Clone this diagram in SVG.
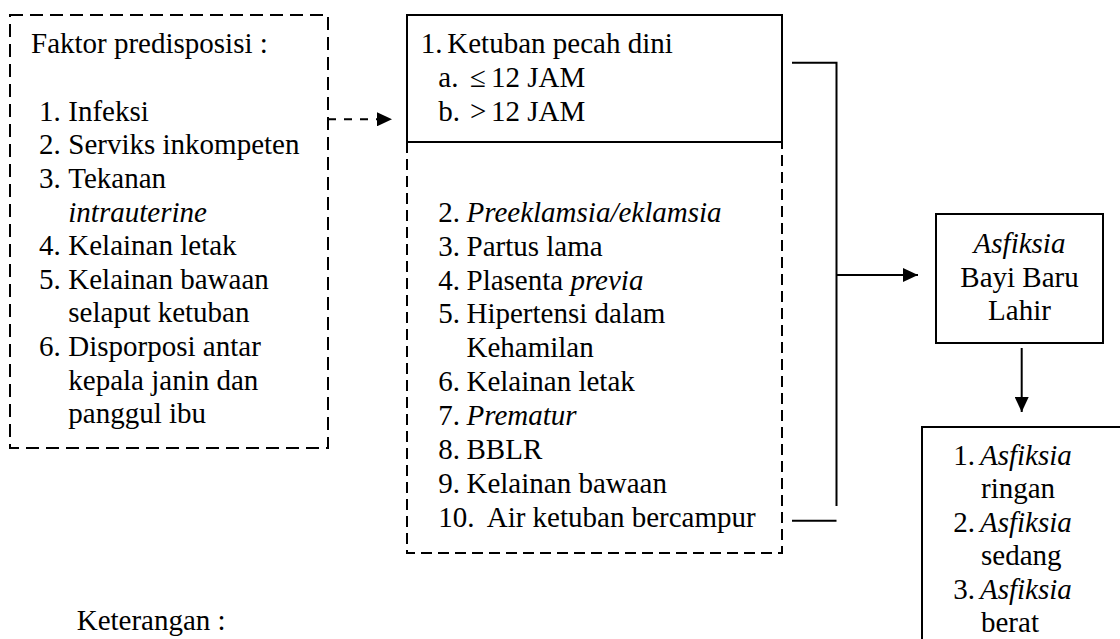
<svg xmlns="http://www.w3.org/2000/svg" width="1120" height="639" viewBox="0 0 1120 639">
<style>
  text { font-family: "Liberation Serif", "Times New Roman", serif; font-size: 29px; fill: #000; }
  .it { font-style: italic; }
  .mid { text-anchor: middle; }
  .solid { fill: none; stroke: #000; stroke-width: 2; }
  .dash { fill: none; stroke: #000; stroke-width: 2; stroke-dasharray: 13 7; }
  .dash2 { fill: none; stroke: #000; stroke-width: 2; stroke-dasharray: 11 6; }
  .line { fill: none; stroke: #000; stroke-width: 2; }
  .dline { fill: none; stroke: #000; stroke-width: 2; stroke-dasharray: 8 8; }
</style>
<defs>
  <marker id="arr" markerWidth="16" markerHeight="14" refX="15" refY="7" orient="auto" markerUnits="userSpaceOnUse">
    <path d="M0,0 L15,7 L0,14 Z" fill="#000"/>
  </marker>
</defs>
<rect width="1120" height="639" fill="#fff"/>

<g id="node-faktor">
  <rect x="10" y="15" width="318" height="433" class="dash"/>
  <text x="31" y="53">Faktor predisposisi :</text>
  <text x="39" y="120.7">1.</text><text x="68.3" y="120.7">Infeksi</text>
  <text x="39" y="154.3">2.</text><text x="68.3" y="154.3">Serviks inkompeten</text>
  <text x="39" y="187.9">3.</text><text x="68.3" y="187.9">Tekanan</text>
  <text x="68.3" y="221.5" class="it">intrauterine</text>
  <text x="39" y="255.1">4.</text><text x="68.3" y="255.1">Kelainan letak</text>
  <text x="39" y="288.7">5.</text><text x="68.3" y="288.7">Kelainan bawaan</text>
  <text x="68.3" y="322.3">selaput ketuban</text>
  <text x="39" y="355.9">6.</text><text x="68.3" y="355.9">Disporposi antar</text>
  <text x="68.3" y="389.5">kepala janin dan</text>
  <text x="68.3" y="423.1">panggul ibu</text>
</g>

<g id="node-penyebab">
  <path d="M407,142 L407,15 L782,15 L782,142" class="solid"/>
  <line x1="407" y1="142" x2="782" y2="142" class="solid"/>
  <path d="M407,142 L407,553 L782,553 L782,142" class="dash2"/>
  <text x="420.7" y="53.3">1.</text><text x="447.3" y="53.3">Ketuban pecah dini</text>
  <text x="438.3" y="87">a.</text><text x="470" y="87">≤</text><text x="491" y="87">12 JAM</text>
  <text x="438.3" y="120.7">b.</text><text x="470" y="120.7">&gt;</text><text x="491" y="120.7">12 JAM</text>
  <text x="438.3" y="221.7">2.</text><text x="466.5" y="221.7" class="it">Preeklamsia/eklamsia</text>
  <text x="438.3" y="255.6">3.</text><text x="466.5" y="255.6">Partus lama</text>
  <text x="438.3" y="289.5">4.</text><text x="466.5" y="289.5">Plasenta <tspan class="it">previa</tspan></text>
  <text x="438.3" y="323.4">5.</text><text x="466.5" y="323.4">Hipertensi dalam</text>
  <text x="466.5" y="357.3">Kehamilan</text>
  <text x="438.3" y="391.2">6.</text><text x="466.5" y="391.2">Kelainan letak</text>
  <text x="438.3" y="425.1">7.</text><text x="466.5" y="425.1" class="it">Prematur</text>
  <text x="438.3" y="459">8.</text><text x="466.5" y="459">BBLR</text>
  <text x="438.3" y="492.9">9.</text><text x="466.5" y="492.9">Kelainan bawaan</text>
  <text x="438.3" y="526.8">10.</text><text x="486.7" y="526.8">Air ketuban bercampur</text>
</g>

<g id="node-asfiksia">
  <rect x="936" y="214" width="167" height="129" class="solid"/>
  <text x="1019.5" y="253.3" class="mid it">Asfiksia</text>
  <text x="1019.5" y="286.5" class="mid">Bayi Baru</text>
  <text x="1019.5" y="319.5" class="mid">Lahir</text>
</g>

<g id="node-derajat">
  <rect x="922" y="427" width="220" height="240" class="solid"/>
  <text x="953.3" y="465">1.</text><text x="980" y="465" class="it">Asfiksia</text>
  <text x="981" y="498.4">ringan</text>
  <text x="953.3" y="531.8">2.</text><text x="980" y="531.8" class="it">Asfiksia</text>
  <text x="981" y="565.2">sedang</text>
  <text x="953.3" y="598.6">3.</text><text x="980" y="598.6" class="it">Asfiksia</text>
  <text x="981" y="632">berat</text>
</g>

<g id="connectors">
  <line x1="328" y1="119.3" x2="392" y2="119.3" class="dline" marker-end="url(#arr)"/>
  <polyline points="792,62.7 836.5,62.7 836.5,506" class="line"/>
  <line x1="792" y1="520.7" x2="836.5" y2="520.7" class="line"/>
  <line x1="836.5" y1="275" x2="918" y2="275" class="line" marker-end="url(#arr)"/>
  <line x1="1021.7" y1="348" x2="1021.7" y2="412" class="line" marker-end="url(#arr)"/>
</g>

<text id="keterangan" x="76.7" y="630">Keterangan :</text>
</svg>
